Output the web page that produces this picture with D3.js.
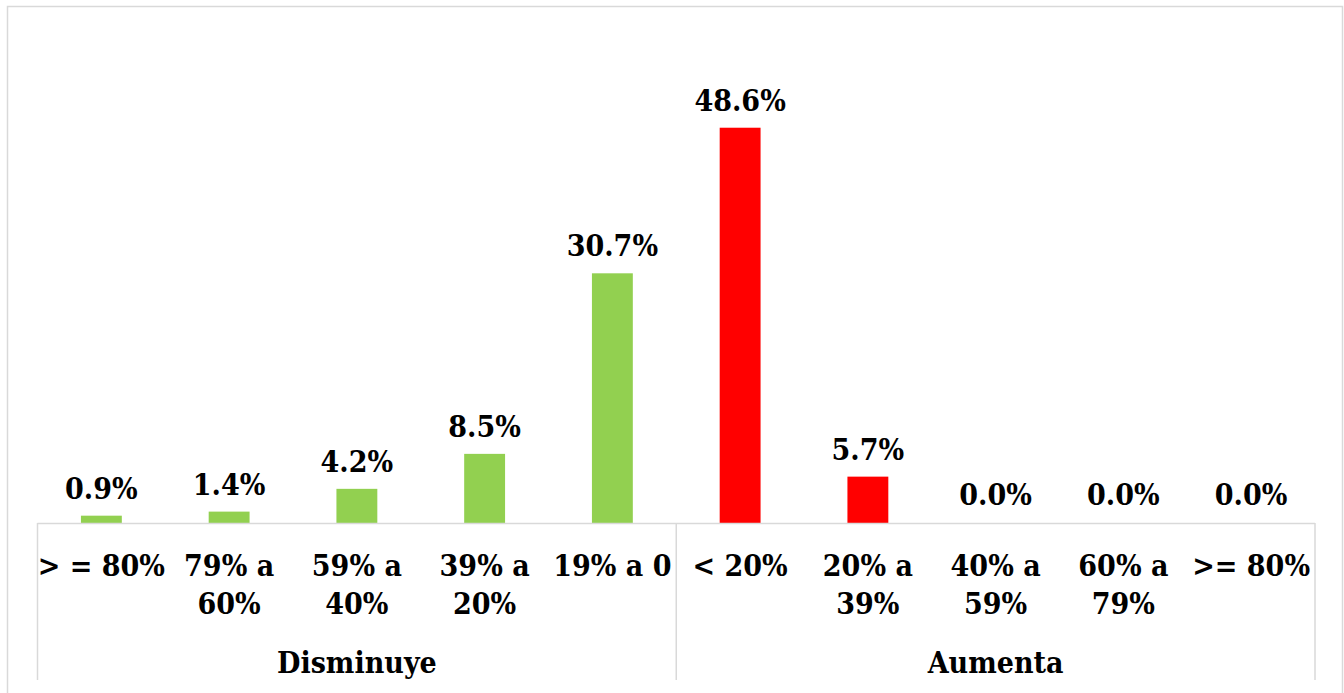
<!DOCTYPE html>
<html>
<head>
<meta charset="utf-8">
<script src="https://cdn.jsdelivr.net/npm/d3@7"></script>
<style>
  body { margin: 0; background: #fff; }
  svg text { font-family: "DejaVu Serif", serif; font-stretch: condensed; font-weight: bold; fill: #000; }
</style>
</head>
<body>
<div id="chart"></div>
<script>
// categorias y valores (%)
var categories = ["> = 80%", "79% a 60%", "59% a 40%", "39% a 20%", "19% a 0",
                  "< 20%", "20% a 39%", "40% a 59%", "60% a 79%", ">= 80%"];
var values = [0.9, 1.4, 4.2, 8.5, 30.7, 48.6, 5.7, 0.0, 0.0, 0.0];
var groups = ["Disminuye", "Aumenta"];
var groupOf = [0, 0, 0, 0, 0, 1, 1, 1, 1, 1];
var groupColors = ["#92d050", "#ff0000"];

var W = 1344, H = 693;
var plotLeft = 37.5, plotRight = 1315, plotBase = 523, plotTop = 35;

var svg = d3.select("#chart").append("svg")
  .attr("width", W)
  .attr("height", H);

// marco exterior
svg.append("rect")
  .attr("x", 7.5).attr("y", 6.5)
  .attr("width", 1335).attr("height", 700)
  .attr("fill", "none")
  .attr("stroke", "#d9d9d9")
  .attr("stroke-width", 1.5);

var x = d3.scaleBand()
  .domain(d3.range(categories.length))
  .range([plotLeft, plotRight])
  .padding(0);

var y = d3.scaleLinear()
  .domain([0, 60])
  .range([plotBase, plotTop]);

var barW = x.bandwidth() * 0.32;

svg.selectAll("rect.bar")
  .data(values)
  .enter()
  .append("rect")
  .attr("class", "bar")
  .attr("x", function(d, i){ return x(i) + x.bandwidth() / 2 - barW / 2; })
  .attr("y", function(d){ return y(d); })
  .attr("width", barW)
  .attr("height", function(d){ return plotBase - y(d); })
  .attr("fill", function(d, i){ return groupColors[groupOf[i]]; });

// etiquetas de valor
svg.selectAll("text.val")
  .data(values)
  .enter()
  .append("text")
  .attr("class", "val")
  .attr("x", function(d, i){ return x(i) + x.bandwidth() / 2; })
  .attr("y", function(d){ return y(d) - (d > 0 ? 17 : 18); })
  .attr("text-anchor", "middle")
  .style("font-size", "30px")
  .text(function(d){ return d.toFixed(1) + "%"; });

// eje horizontal
svg.append("line")
  .attr("x1", plotLeft).attr("x2", plotRight)
  .attr("y1", plotBase + 0.5).attr("y2", plotBase + 0.5)
  .attr("stroke", "#d9d9d9")
  .attr("stroke-width", 1.5);

// separadores de grupo
var splits = [0, 5, 10].map(function(i){ return i < categories.length ? x(i) : plotRight; });
svg.selectAll("line.sep")
  .data(splits)
  .enter()
  .append("line")
  .attr("class", "sep")
  .attr("x1", function(d){ return d; })
  .attr("x2", function(d){ return d; })
  .attr("y1", plotBase)
  .attr("y2", 680)
  .attr("stroke", "#d9d9d9")
  .attr("stroke-width", 1.5);

// etiquetas de categoria (se parten en dos lineas si no caben)
svg.selectAll("text.cat")
  .data(categories)
  .enter()
  .append("text")
  .attr("class", "cat")
  .attr("x", function(d, i){ return x(i) + x.bandwidth() / 2; })
  .attr("y", 576)
  .attr("text-anchor", "middle")
  .style("font-size", "30px")
  .text(function(d){ return d; })
  .each(function(d, i){
    var t = d3.select(this);
    if (this.getComputedTextLength() <= x.bandwidth() - 4) return;
    var m = d.match(/^(.* a) (.*)$/);
    if (!m) return;
    t.text(null);
    var cx = x(i) + x.bandwidth() / 2;
    t.append("tspan").attr("x", cx).attr("dy", 0).text(m[1]);
    t.append("tspan").attr("x", cx).attr("dy", 38).text(m[2]);
  });

// etiquetas de grupo
svg.selectAll("text.grp")
  .data(groups)
  .enter()
  .append("text")
  .attr("class", "grp")
  .attr("x", function(d, g){ return (splits[g] + splits[g + 1]) / 2; })
  .attr("y", 673)
  .attr("text-anchor", "middle")
  .style("font-size", "30px")
  .text(function(d){ return d; });
</script>
</body>
</html>
